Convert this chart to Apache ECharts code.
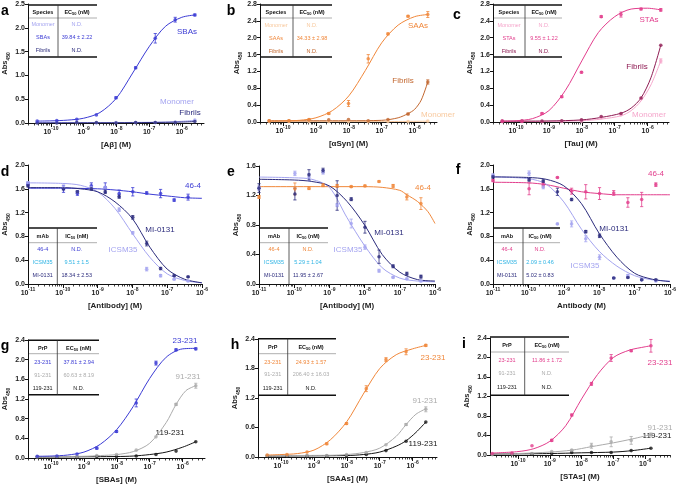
<!DOCTYPE html>
<html><head><meta charset="utf-8">
<script src="https://cdn.jsdelivr.net/npm/echarts@6/dist/echarts.min.js"></script>
<style>html,body{margin:0;padding:0;background:#fff}#c{width:677px;height:484px}</style>
</head><body><div id="c"></div>
<script>
// ---------- concentrations (log10 M) ----------
const X_STD = [-10.42,-9.82,-9.21,-8.61,-8.01,-7.41,-6.81,-6.20,-5.60];
const X_I   = [-10.81,-10.19,-9.56,-8.94,-8.31,-7.69,-7.07,-6.44,-5.82];
const X_AB  = [-11,-9.98,-9.58,-9.18,-8.78,-8.38,-7.99,-7.59,-7.19,-6.80,-6.40];

// ---------- panel a ----------
const A_SBAS = [0.04,0.05,0.08,0.17,0.53,1.16,1.78,2.17,2.27];
const A_SBAS_ERR = [0,0,0,0,0.02,0.02,0.10,0.05,0.02];
const A_SBAS_CURVE = [[-10.42,0.04],[-10,0.045],[-9.5,0.06],[-9,0.10],[-8.5,0.22],[-8,0.52],[-7.5,1.05],[-7,1.60],[-6.5,2.03],[-6,2.22],[-5.6,2.27]];
const A_MONO = [0.01,0.01,0.01,0.00,0.01,0.01,0.01,0.02,0.06];
const A_MONO_CURVE = [[-10.42,0.01],[-8,0.01],[-7,0.015],[-6.5,0.02],[-6,0.035],[-5.6,0.055]];
const A_FIB = [0.00,0.00,0.01,0.01,0.00,0.01,0.01,0.01,0.03];
const A_FIB_CURVE = [[-10.42,0.0],[-8,0.005],[-7,0.01],[-6,0.02],[-5.6,0.03]];

// ---------- panel b ----------
const B_SAAS = [0.03,0.03,0.06,0.20,0.44,1.50,2.09,2.51,2.55];
const B_SAAS_ERR = [0,0,0,0.02,0.07,0.10,0.02,0.02,0.07];
const B_SAAS_CURVE = [[-10.42,0.02],[-10,0.025],[-9.5,0.04],[-9,0.10],[-8.5,0.27],[-8,0.62],[-7.5,1.22],[-7,1.88],[-6.5,2.3],[-6,2.5],[-5.6,2.55]];
const B_FIB = [0.03,0.03,0.05,0.05,0.06,0.03,0.06,0.19,0.95];
const B_FIB_ERR = [0,0,0,0,0,0,0,0.02,0.05];
const B_FIB_CURVE = [[-10.42,0.03],[-8,0.03],[-7,0.04],[-6.5,0.10],[-6.2,0.20],[-6,0.30],[-5.8,0.52],[-5.6,0.95]];
const B_MONO = [0.01,0.01,0.01,0.01,0.01,0.01,0.01,0.01,0.02];
const B_MONO_CURVE = [[-10.42,0.01],[-7,0.01],[-5.6,0.02]];

// ---------- panel c ----------
const C_STAS = [0.02,0.02,0.20,0.60,1.18,2.50,2.55,2.68,2.66];
const C_STAS_ERR = [0,0,0.02,0.02,0.02,0.02,0.06,0.02,0.03];
const C_STAS_CURVE = [[-10.42,0.02],[-10,0.03],[-9.5,0.08],[-9,0.27],[-8.5,0.75],[-8,1.45],[-7.5,2.12],[-7,2.5],[-6.5,2.68],[-6,2.7],[-5.6,2.66]];
const C_FIB = [0.02,0.02,0.02,0.03,0.05,0.13,0.20,0.57,1.82];
const C_FIB_CURVE = [[-10.42,0.02],[-9,0.025],[-8,0.05],[-7.4,0.11],[-6.8,0.21],[-6.5,0.33],[-6.2,0.57],[-5.9,1.05],[-5.6,1.82]];
const C_MONO = [0.01,0.01,0.01,0.01,0.02,0.10,0.17,0.55,1.45];
const C_MONO_ERR = [0,0,0,0,0,0,0,0,0.05];
const C_MONO_CURVE = [[-10.42,0.01],[-9,0.015],[-8,0.03],[-7.4,0.07],[-6.8,0.15],[-6.5,0.27],[-6.2,0.5],[-5.9,0.88],[-5.6,1.45]];

// ---------- panel d ----------
const D_464 = [1.68,1.60,1.52,1.65,1.62,1.52,1.55,1.53,1.52,1.41,1.46];
const D_464_ERR = [0.03,0.06,0.03,0.05,0.08,0.06,0.07,0.02,0.07,0.02,0.05];
const D_464_CURVE = [[-11,1.61],[-10,1.61],[-9,1.6],[-8.5,1.58],[-8,1.55],[-7.5,1.51],[-7,1.48],[-6.5,1.45],[-6,1.44]];
const D_ICSM = [1.70,1.62,1.55,1.62,1.62,1.25,0.86,0.25,0.14,0.08,0.05];
const D_ICSM_ERR = [0.02,0.03,0.02,0.02,0.02,0.03,0.02,0.03,0.02,0.01,0.01];
const D_ICSM_CURVE = [[-11,1.7],[-10,1.69],[-9.5,1.66],[-9,1.55],[-8.5,1.27],[-8,0.85],[-7.5,0.45],[-7,0.17],[-6.5,0.06],[-6,0.02]];
const D_MI = [1.65,1.60,1.55,1.60,1.55,1.47,1.12,0.68,0.26,0.14,0.12];
const D_MI_ERR = [0.02,0.02,0.02,0.02,0.03,0.03,0.03,0.04,0.02,0.01,0.01];
const D_MI_CURVE = [[-11,1.62],[-10,1.62],[-9.5,1.6],[-9,1.55],[-8.5,1.38],[-8,1.1],[-7.5,0.62],[-7,0.25],[-6.5,0.08],[-6,0.02]];

// ---------- panel e ----------
const E_464 = [1.18,1.29,1.30,1.34,1.33,1.32,1.33,1.39,1.33,1.18,1.09];
const E_464_ERR = [0.02,0.08,0.02,0.02,0.02,0.01,0.01,0.01,0.02,0.04,0.08];
const E_464_CURVE = [[-11,1.32],[-9,1.32],[-8,1.32],[-7.5,1.31],[-7,1.27],[-6.8,1.21],[-6.5,1.12],[-6.2,0.98],[-6,0.82]];
const E_ICSM = [1.30,1.50,1.45,1.52,1.07,0.82,0.50,0.18,0.09,0.07,0.04];
const E_ICSM_ERR = [0.03,0.03,0.05,0.03,0.02,0.06,0.03,0.02,0.01,0.01,0.01];
const E_ICSM_CURVE = [[-11,1.45],[-10,1.44],[-9.5,1.42],[-9,1.31],[-8.5,0.9],[-8,0.52],[-7.5,0.22],[-7,0.08],[-6.5,0.04],[-6,0.03]];
const E_MI = [1.30,1.22,1.48,1.54,1.20,1.15,0.77,0.37,0.24,0.14,0.10];
const E_MI_ERR = [0.06,0.08,0.07,0.03,0.2,0.02,0.08,0.09,0.02,0.02,0.02];
const E_MI_CURVE = [[-11,1.42],[-10,1.41],[-9.5,1.39],[-9,1.33],[-8.5,1.12],[-8,0.8],[-7.5,0.4],[-7,0.16],[-6.5,0.06],[-6,0.04]];

// ---------- panel f ----------
const F_464 = [1.74,1.60,1.67,1.79,1.56,1.55,1.52,1.53,1.37,1.42,1.67];
const F_464_ERR = [0.02,0.10,0.04,0.01,0.05,0.12,0.10,0.04,0.08,0.12,0.03];
const F_464_CURVE = [[-11,1.71],[-10,1.7],[-9.5,1.67],[-9,1.61],[-8.5,1.55],[-8,1.52],[-7.5,1.5],[-7,1.5],[-6,1.5]];
const F_ICSM = [1.83,1.86,1.63,1.01,1.01,0.76,0.45,0.10,0.14,0.07,0.05];
const F_ICSM_ERR = [0.02,0.04,0.03,0.01,0.05,0.05,0.04,0.01,0.02,0.01,0.01];
const F_ICSM_CURVE = [[-11,1.8],[-10,1.77],[-9.5,1.68],[-9,1.38],[-8.5,0.92],[-8,0.55],[-7.5,0.3],[-7,0.14],[-6.5,0.07],[-6,0.05]];
const F_MI = [1.80,1.75,1.73,1.55,1.42,0.88,0.81,0.10,0.11,0.07,0.07];
const F_MI_ERR = [0.02,0.02,0.02,0.06,0.02,0.02,0.03,0.01,0.01,0.01,0.01];
const F_MI_CURVE = [[-11,1.8],[-10,1.79],[-9.5,1.76],[-9,1.65],[-8.5,1.35],[-8,0.85],[-7.5,0.45],[-7,0.18],[-6.5,0.08],[-6,0.04]];

// ---------- panel g ----------
const G_23 = [0.034,0.04,0.08,0.20,0.54,1.12,1.93,2.20,2.22];
const G_23_ERR = [0,0,0,0.02,0.02,0.08,0.04,0.02,0.02];
const G_23_CURVE = [[-10.42,0.035],[-10,0.04],[-9.5,0.06],[-9,0.12],[-8.5,0.28],[-8,0.58],[-7.5,1.05],[-7,1.62],[-6.5,2.05],[-6,2.22],[-5.6,2.23]];
const G_91 = [0.02,0.03,0.03,0.05,0.07,0.16,0.43,1.09,1.47];
const G_91_ERR = [0,0,0,0,0,0,0,0.02,0.05];
const G_91_CURVE = [[-10.42,0.03],[-9,0.035],[-8.5,0.05],[-8,0.07],[-7.5,0.13],[-7,0.3],[-6.5,0.72],[-6.2,1.09],[-5.9,1.37],[-5.6,1.47]];
const G_119 = [0.02,0.02,0.02,0.03,0.03,0.04,0.07,0.14,0.33];
const G_119_CURVE = [[-10.42,0.02],[-8,0.03],[-7.5,0.04],[-7,0.07],[-6.5,0.12],[-6,0.22],[-5.6,0.33]];

// ---------- panel h ----------
const H_23 = [0.04,0.05,0.10,0.27,0.68,1.39,1.98,2.14,2.27];
const H_23_ERR = [0,0,0,0.02,0.02,0.06,0.04,0.06,0.02];
const H_23_CURVE = [[-10.42,0.04],[-10,0.05],[-9.5,0.07],[-9,0.14],[-8.5,0.35],[-8,0.72],[-7.5,1.28],[-7,1.8],[-6.5,2.08],[-6,2.2],[-5.6,2.27]];
const H_91 = [0.03,0.03,0.03,0.03,0.05,0.09,0.25,0.66,0.97];
const H_91_ERR = [0,0,0,0,0,0,0,0.02,0.05];
const H_91_CURVE = [[-10.42,0.03],[-8.5,0.035],[-8,0.05],[-7.5,0.09],[-7,0.18],[-6.5,0.42],[-6.2,0.66],[-5.9,0.87],[-5.6,0.98]];
const H_119 = [0.02,0.02,0.02,0.02,0.03,0.05,0.13,0.32,0.71];
const H_119_CURVE = [[-10.42,0.02],[-8,0.03],[-7.5,0.05],[-7,0.1],[-6.5,0.22],[-6.2,0.33],[-5.9,0.5],[-5.6,0.71]];

// ---------- panel i ----------
const I_23 = [0.03,0.04,0.19,0.30,0.82,1.46,1.99,2.14,2.24];
const I_23_ERR = [0,0,0,0.02,0.02,0.03,0.07,0.02,0.13];
const I_23_CURVE = [[-10.81,0.04],[-10,0.07],[-9.5,0.13],[-9,0.28],[-8.5,0.6],[-8,1.15],[-7.5,1.65],[-7,2.0],[-6.5,2.15],[-6,2.22],[-5.82,2.24]];
const I_91 = [0.01,0.02,0.03,0.07,0.10,0.19,0.27,0.30,0.42];
const I_91_ERR = [0,0,0,0,0.01,0.05,0.10,0.08,0.03];
const I_91_CURVE = [[-10.81,0.02],[-10,0.03],[-9,0.06],[-8.3,0.1],[-7.7,0.17],[-7,0.25],[-6.4,0.33],[-5.82,0.42]];
const I_119 = [0.01,0.02,0.02,0.03,0.05,0.05,0.05,0.09,0.14];
const I_119_CURVE = [[-10.81,0.02],[-9,0.03],[-8,0.045],[-7,0.06],[-6.4,0.09],[-5.82,0.14]];

// ---------- table texts ----------
const TAB_A = [['Monomer','N.D.'],['SBAs','39.84 ± 2.22'],['Fibrils','N.D.']];
const TAB_B = [['Monomer','N.D.'],['SAAs','34.33 ± 2.98'],['Fibrils','N.D.']];
const TAB_C = [['Monomer','N.D.'],['STAs','9.55 ± 1.22'],['Fibrils','N.D.']];
const TAB_D = [['46-4','N.D.'],['ICSM35','9.51 ± 1.5'],['MI-0131','18.34 ± 2.53']];
const TAB_E = [['46-4','N.D.'],['ICSM35','5.29 ± 1.04'],['MI-0131','11.95 ± 2.67']];
const TAB_F = [['46-4','N.D.'],['ICSM35','2.09 ± 0.46'],['MI-0131','5.02 ± 0.83']];
const TAB_G = [['23-231','37.81 ± 2.94'],['91-231','60.63 ± 8.19'],['119-231','N.D.']];
const TAB_H = [['23-231','24.93 ± 1.57'],['91-231','206.40 ± 16.03'],['119-231','N.D.']];
const TAB_I = [['23-231','11.86 ± 1.72'],['91-231','N.D.'],['119-231','N.D.']];

// ---------- styling ----------
const FONT = 'Liberation Sans, Arial, Helvetica, sans-serif';
const COL = {
  blue:'#3b3bd4', lpurple:'#a4a4f0', navy:'#2b2b7c', cyan:'#2db3e4',
  orange:'#f0873a', brown:'#c2672f', lorange:'#f8c99e',
  pink:'#e23d8c', magenta:'#8e1a52', lpink:'#f5a6cb',
  gray:'#ababab', black:'#151515'
};

const PANELS = [
 {letter:'a', lp:[1,11], grid:[28,4,176,119], xr:[-10.7,-5.32], yr:[2.5,0.5], xname:'[Aβ] (M)',
  series:[
   {x:X_STD, y:A_MONO, c:A_MONO_CURVE, col:COL.lpurple, name:'Monomer', lab:[177,102]},
   {x:X_STD, y:A_FIB, c:A_FIB_CURVE, col:COL.navy, name:'Fibrils', lab:[190,113]},
   {x:X_STD, y:A_SBAS, e:A_SBAS_ERR, c:A_SBAS_CURVE, col:COL.blue, name:'SBAs', lab:[187,32]}],
  table:{x0:28,x1:97,top:5,hy:12,sep:18,ry:[24.5,37.5,50],bottom:57,div:58,c1:43,c2:77,
    head:['Species','EC','50',' (nM)'], rows:TAB_A, cols:[COL.lpurple,COL.blue,COL.navy], ccols:[COL.lpurple,COL.blue,COL.navy]}},
 {letter:'b', lp:[227,11], grid:[260,4,177,118], xr:[-10.7,-5.32], yr:[2.8,0.4], xname:'[αSyn] (M)',
  series:[
   {x:X_STD, y:B_MONO, c:B_MONO_CURVE, col:COL.lorange, name:'Monomer', lab:[438,115]},
   {x:X_STD, y:B_FIB, e:B_FIB_ERR, c:B_FIB_CURVE, col:COL.brown, name:'Fibrils', lab:[403,81]},
   {x:X_STD, y:B_SAAS, e:B_SAAS_ERR, c:B_SAAS_CURVE, col:COL.orange, name:'SAAs', lab:[418,26]}],
  table:{x0:260,x1:332,top:5,hy:12,sep:18,ry:[25,38,51],bottom:57,div:293,c1:276,c2:312,
    head:['Species','EC','50',' (nM)'], rows:TAB_B, cols:[COL.lorange,COL.orange,COL.brown], ccols:[COL.lorange,COL.orange,COL.brown]}},
 {letter:'c', lp:[453,15], grid:[493,4,176,118], xr:[-10.7,-5.35], yr:[2.8,0.4], xname:'[Tau] (M)',
  series:[
   {x:X_STD, y:C_MONO, e:C_MONO_ERR, c:C_MONO_CURVE, col:COL.lpink, name:'Monomer', lab:[649,115]},
   {x:X_STD, y:C_FIB, c:C_FIB_CURVE, col:COL.magenta, name:'Fibrils', lab:[637,67]},
   {x:X_STD, y:C_STAS, e:C_STAS_ERR, c:C_STAS_CURVE, col:COL.pink, name:'STAs', lab:[649,20]}],
  table:{x0:493,x1:562,top:5,hy:12,sep:18,ry:[25,38,51],bottom:57,div:525,c1:509,c2:544,
    head:['Species','EC','50',' (nM)'], rows:TAB_C, cols:[COL.lpink,COL.pink,COL.magenta], ccols:[COL.lpink,COL.pink,COL.magenta]}},
 {letter:'d', lp:[1,172], grid:[28,165,174,119], xr:[-11,-6], yr:[2.0,0.4], xname:'[Antibody] (M)',
  series:[
   {x:X_AB, y:D_464, e:D_464_ERR, c:D_464_CURVE, col:COL.blue, name:'46-4', lab:[193,186]},
   {x:X_AB, y:D_ICSM, e:D_ICSM_ERR, c:D_ICSM_CURVE, col:COL.lpurple, name:'ICSM35', lab:[123,250]},
   {x:X_AB, y:D_MI, e:D_MI_ERR, c:D_MI_CURVE, col:COL.navy, name:'MI-0131', lab:[160,230]}],
  table:{x0:28,x1:97,top:228,hy:236,sep:242.7,ry:[249,262,275.5],bottom:null,divEnd:284,div:57.3,c1:42.7,c2:76.7,
    head:['mAb','IC','50',' (nM)'], rows:TAB_D, cols:[COL.blue,COL.cyan,COL.navy], ccols:[COL.blue,COL.cyan,COL.navy]}},
 {letter:'e', lp:[227,172], grid:[259,166,176,118], xr:[-11,-6], yr:[1.6,0.4], xname:'[Antibody] (M)',
  series:[
   {x:X_AB, y:E_464, e:E_464_ERR, c:E_464_CURVE, col:COL.orange, name:'46-4', lab:[423,188]},
   {x:X_AB, y:E_ICSM, e:E_ICSM_ERR, c:E_ICSM_CURVE, col:COL.lpurple, name:'ICSM35', lab:[348,250]},
   {x:X_AB, y:E_MI, e:E_MI_ERR, c:E_MI_CURVE, col:COL.navy, name:'MI-0131', lab:[389,233]}],
  table:{x0:259,x1:328,top:228,hy:236,sep:242.7,ry:[249,262,275.5],bottom:null,divEnd:284,div:289,c1:274,c2:308,
    head:['mAb','IC','50',' (nM)'], rows:TAB_E, cols:[COL.orange,COL.cyan,COL.navy], ccols:[COL.orange,COL.cyan,COL.navy]}},
 {letter:'f', lp:[454,170], grid:[493,165,177,119], xr:[-11,-6], yr:[2.0,0.4], xname:'Antibody (M)',
  series:[
   {x:X_AB, y:F_464, e:F_464_ERR, c:F_464_CURVE, col:COL.pink, name:'46-4', lab:[656,174]},
   {x:X_AB, y:F_ICSM, e:F_ICSM_ERR, c:F_ICSM_CURVE, col:COL.lpurple, name:'ICSM35', lab:[585,266]},
   {x:X_AB, y:F_MI, e:F_MI_ERR, c:F_MI_CURVE, col:COL.navy, name:'MI-0131', lab:[614,229]}],
  table:{x0:493,x1:560,top:228,hy:236,sep:242.7,ry:[249,262,275.5],bottom:null,divEnd:284,div:523,c1:507,c2:540,
    head:['mAb','IC','50',' (nM)'], rows:TAB_F, cols:[COL.pink,COL.cyan,COL.navy], ccols:[COL.pink,COL.cyan,COL.navy]}},
 {letter:'g', lp:[1,346], grid:[28,340,177,118], xr:[-10.7,-5.32], yr:[2.4,0.4], xname:'[SBAs] (M)',
  series:[
   {x:X_STD, y:G_119, c:G_119_CURVE, col:COL.black, name:'119-231', lab:[170,433]},
   {x:X_STD, y:G_91, e:G_91_ERR, c:G_91_CURVE, col:COL.gray, name:'91-231', lab:[188,377]},
   {x:X_STD, y:G_23, e:G_23_ERR, c:G_23_CURVE, col:COL.blue, name:'23-231', lab:[185,341]}],
  table:{x0:28,x1:99,top:340.3,hy:348,sep:353.7,ry:[362,375.3,388],bottom:394.7,div:57.3,c1:42.7,c2:78.7,
    head:['PrP','EC','50',' (nM)'], rows:TAB_G, cols:[COL.blue,COL.gray,COL.black], ccols:[COL.blue,COL.gray,COL.black]}},
 {letter:'h', lp:[231,345], grid:[258,339,179,118], xr:[-10.7,-5.26], yr:[2.4,0.6], xname:'[SAAs] (M)',
  series:[
   {x:X_STD, y:H_119, c:H_119_CURVE, col:COL.black, name:'119-231', lab:[423,444]},
   {x:X_STD, y:H_91, e:H_91_ERR, c:H_91_CURVE, col:COL.gray, name:'91-231', lab:[425,401]},
   {x:X_STD, y:H_23, e:H_23_ERR, c:H_23_CURVE, col:COL.orange, name:'23-231', lab:[433,358]}],
  table:{x0:258,x1:336,top:338.7,hy:347,sep:353.7,ry:[362,374.7,388],bottom:395.3,div:287.7,c1:272.7,c2:311,
    head:['PrP','EC','50',' (nM)'], rows:TAB_H, cols:[COL.orange,COL.gray,COL.black], ccols:[COL.orange,COL.gray,COL.black]}},
 {letter:'i', lp:[460,344], grid:[490,338,180,117], xr:[-10.88,-5.22], yr:[2.4,0.4], xname:'[STAs] (M)',
  series:[
   {x:X_I, y:I_119, c:I_119_CURVE, col:COL.black, name:'119-231', lab:[657,436]},
   {x:X_I, y:I_91, e:I_91_ERR, c:I_91_CURVE, col:COL.gray, name:'91-231', lab:[660,428]},
   {x:X_I, y:I_23, e:I_23_ERR, c:I_23_CURVE, col:COL.pink, name:'23-231', lab:[660,363]}],
  table:{x0:490,x1:569,top:337,hy:345.3,sep:352,ry:[360.3,373.7,387],bottom:395.3,div:524.7,c1:507,c2:547,
    head:['PrP','EC','50',' (nM)'], rows:TAB_I, cols:[COL.pink,COL.gray,COL.black], ccols:[COL.pink,COL.gray,COL.black]}}
];

// ---------- build ----------
const option = {animation:false, backgroundColor:'#fff', grid:[], xAxis:[], yAxis:[], series:[], graphic:[]};
const G = option.graphic;

function majorTicks(a,b){const o=[];for(let d=Math.ceil(a-1e-9);d<=Math.floor(b+1e-9);d++)o.push(d);return o;}
function minorTicks(a,b){const o=[];for(let d=Math.floor(a)-1;d<=Math.ceil(b);d++){for(let k=2;k<=9;k++){const v=d+Math.log10(k);if(v>a+1e-6&&v<b-1e-6)o.push(v);}}return o;}
function gline(x1,y1,x2,y2,col,w){G.push({type:'line',silent:true,shape:{x1,y1,x2,y2},style:{stroke:col,lineWidth:w}});}
function gtext(x,y,text,col,size,weight,rich){
  const st={text,x:0,y:0,fill:col,fontSize:size,fontFamily:FONT,fontWeight:weight||'normal',align:'center',verticalAlign:'middle'};
  if(rich) st.rich=rich;
  G.push({type:'text',silent:true,x,y,style:st});
}
function errRender(col){
  return function(params, api){
    const x=api.value(0), lo=api.value(1), hi=api.value(2);
    const p=api.coord([x,hi]), q=api.coord([x,lo]);
    const st={stroke:col,lineWidth:0.8};
    return {type:'group',children:[
      {type:'line',shape:{x1:p[0],y1:p[1],x2:q[0],y2:q[1]},style:st},
      {type:'line',shape:{x1:p[0]-1.6,y1:p[1],x2:p[0]+1.6,y2:p[1]},style:st},
      {type:'line',shape:{x1:q[0]-1.6,y1:q[1],x2:q[0]+1.6,y2:q[1]},style:st}]};
  };
}

PANELS.forEach(P=>{
  const gi=option.grid.length;
  option.grid.push({left:P.grid[0],top:P.grid[1],width:P.grid[2],height:P.grid[3],containLabel:false,outerBoundsMode:'none'});
  const xi=option.xAxis.length;
  option.xAxis.push({gridIndex:gi,type:'value',position:'bottom',min:P.xr[0],max:P.xr[1],
    axisLine:{show:true,onZero:false,lineStyle:{color:'#111',width:1}},
    axisTick:{show:true,inside:false,length:4,customValues:majorTicks(P.xr[0],P.xr[1]),lineStyle:{color:'#111',width:1}},
    axisLabel:{show:true,margin:3,customValues:majorTicks(P.xr[0],P.xr[1]),
      formatter:v=>'{b|10}{s|'+Math.round(v)+'}',
      rich:{b:{fontSize:7,fontWeight:'bold',fontFamily:FONT,color:'#222',lineHeight:10,verticalAlign:'bottom'},
            s:{fontSize:5,fontWeight:'bold',fontFamily:FONT,color:'#222',lineHeight:10,verticalAlign:'top'}}},
    splitLine:{show:false},
    name:P.xname,nameLocation:'middle',nameGap:18,
    nameTextStyle:{fontSize:8,fontWeight:'bold',fontFamily:FONT,color:'#222'}});
  option.xAxis.push({gridIndex:gi,type:'value',position:'bottom',min:P.xr[0],max:P.xr[1],
    axisLine:{show:false,onZero:false},
    axisTick:{show:true,inside:false,length:2.5,customValues:minorTicks(P.xr[0],P.xr[1]),lineStyle:{color:'#111',width:0.8}},
    axisLabel:{show:false},splitLine:{show:false}});
  const yi=option.yAxis.length;
  option.yAxis.push({gridIndex:gi,type:'value',min:0,max:P.yr[0],interval:P.yr[1],
    axisLine:{show:true,onZero:false,lineStyle:{color:'#111',width:1}},
    axisTick:{show:true,inside:false,length:3,lineStyle:{color:'#111',width:1}},
    axisLabel:{fontSize:7,fontWeight:'bold',fontFamily:FONT,color:'#222',margin:3,formatter:v=>v.toFixed(1)},
    splitLine:{show:false},
    name:'{a|Abs}{s|450}',nameLocation:'middle',nameGap:14,nameRotate:90,
    nameTextStyle:{rich:{a:{fontSize:7.5,fontWeight:'bold',fontFamily:FONT,color:'#222',lineHeight:10,verticalAlign:'top'},
                         s:{fontSize:5,fontWeight:'bold',fontFamily:FONT,color:'#222',lineHeight:10,verticalAlign:'bottom'}}}});
  P.series.forEach(S=>{
    option.series.push({type:'line',xAxisIndex:xi,yAxisIndex:yi,data:S.c,smooth:0.3,
      showSymbol:false,symbol:'none',silent:true,lineStyle:{color:S.col,width:1},z:2});
    if(S.e){
      const ed=[];S.x.forEach((x,k)=>{if(S.e[k]>0)ed.push([x,S.y[k]-S.e[k],S.y[k]+S.e[k]]);});
      option.series.push({type:'custom',xAxisIndex:xi,yAxisIndex:yi,data:ed,renderItem:errRender(S.col),silent:true,z:3});
    }
    option.series.push({type:'scatter',xAxisIndex:xi,yAxisIndex:yi,data:S.x.map((x,k)=>[x,S.y[k]]),
      symbol:'circle',symbolSize:3.6,itemStyle:{color:S.col},silent:true,z:4});
    gtext(S.lab[0],S.lab[1],S.name,S.col,8,'normal');
  });
  // table
  const T=P.table;
  gline(T.x0,T.top,T.x1,T.top,'#111',1.4);
  gline(T.x0,T.sep,T.x1,T.sep,'#9a9a9a',0.8);
  if(T.bottom) gline(T.x0,T.bottom,T.x1,T.bottom,'#111',1.4);
  gline(T.div,T.top,T.div,T.bottom||T.divEnd,'#333',0.8);
  gtext(T.c1,T.hy,T.head[0],'#111',5.5,'bold');
  gtext(T.c2,T.hy,'{a|'+T.head[1]+'}{s|'+T.head[2]+'}{a|'+T.head[3]+'}','#111',5.5,'bold',
    {a:{fontSize:5.5,fontWeight:'bold',fontFamily:FONT,color:'#111',lineHeight:8,verticalAlign:'middle'},
     s:{fontSize:4,fontWeight:'bold',fontFamily:FONT,color:'#111',lineHeight:8,verticalAlign:'bottom'}});
  T.rows.forEach((r,k)=>{
    gtext(T.c1,T.ry[k],r[0],T.cols[k],5.5,'normal');
    gtext(T.c2,T.ry[k],r[1],T.ccols[k],5.5,'normal');
  });
  gtext(P.lp[0]+4,P.lp[1],P.letter,'#000',14,'bold');
});

const chart=echarts.init(document.getElementById('c'),null,{renderer:'canvas'});
chart.setOption(option);
</script></body></html>
